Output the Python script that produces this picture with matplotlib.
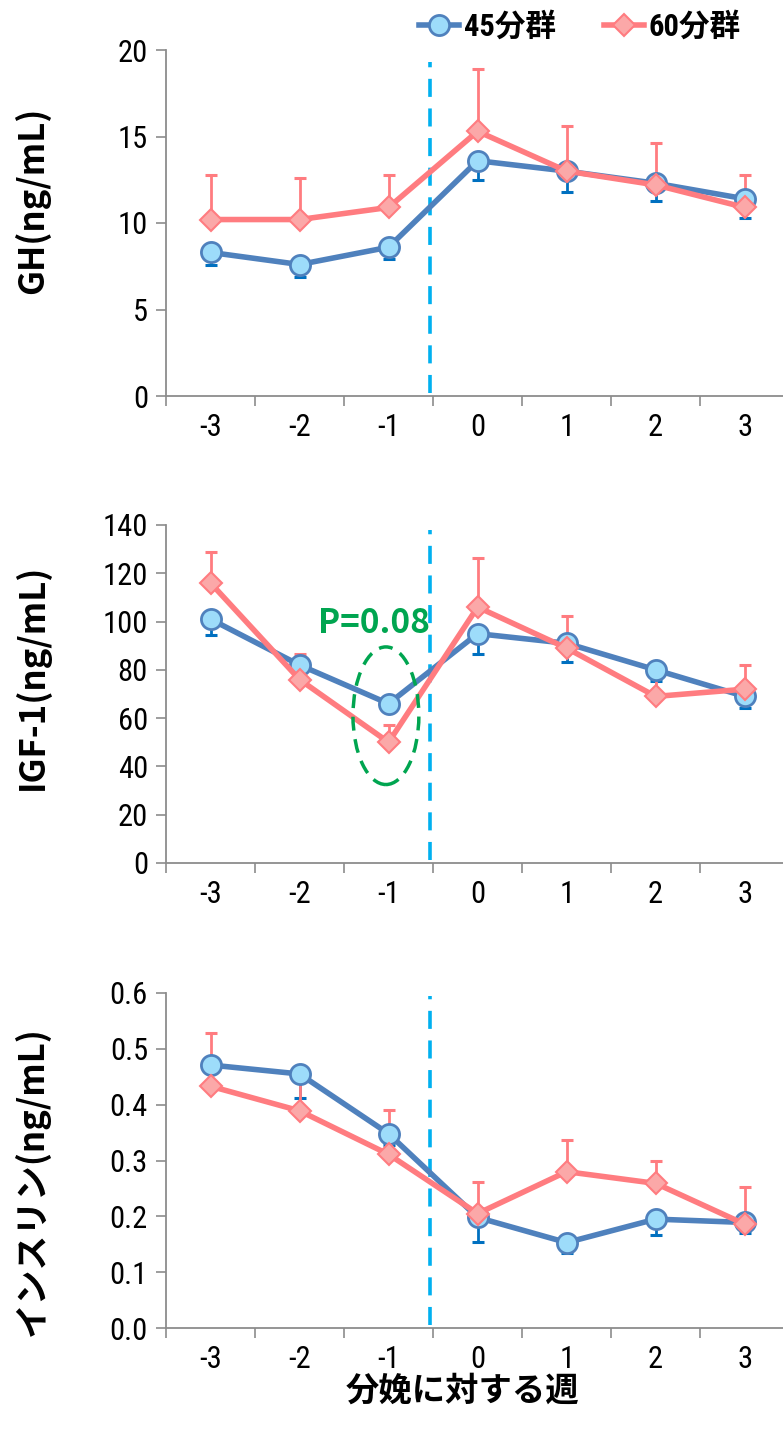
import numpy as np
import matplotlib
matplotlib.use('Agg')
import matplotlib.pyplot as plt
from matplotlib.patches import Ellipse

weeks = ['-3', '-2', '-1', '0', '1', '2', '3']

gh_45 = [8.3, 7.6, 8.6, 13.6, 13.0, 12.3, 11.4]
gh_45_se = [0.7, 0.7, 0.7, 1.1, 1.2, 1.0, 1.1]
gh_60 = [10.2, 10.2, 10.9, 15.3, 13.0, 12.2, 10.9]
gh_60_se = [2.6, 2.4, 1.9, 3.6, 2.6, 2.4, 1.9]

igf_45 = [101, 82, 66, 95, 91, 80, 69]
igf_45_se = [6.5, 3, 3, 8.4, 7.8, 4.8, 4.7]
igf_60 = [116, 76, 50, 106, 89, 69, 72]
igf_60_se = [13, 10.5, 7, 20.5, 13.5, 7.5, 10]

ins_45 = [0.471, 0.455, 0.348, 0.198, 0.153, 0.195, 0.189]
ins_45_se = [0.03, 0.043, 0.02, 0.044, 0.019, 0.029, 0.019]
ins_60 = [0.433, 0.389, 0.311, 0.205, 0.280, 0.259, 0.186]
ins_60_se = [0.096, 0.06, 0.08, 0.057, 0.057, 0.041, 0.066]

group_labels = ['45分群', '60分群']
ylabels = ['GH(ng/mL)', 'IGF-1(ng/mL)', 'インスリン(ng/mL)']
xlabel = '分娩に対する週'

fam = ['Roboto Condensed', 'Noto Sans CJK JP', 'DejaVu Sans']
cjk = ['Noto Sans CJK JP', 'DejaVu Sans']
plt.rcParams['font.family'] = fam

blue = '#4F81BD'
blue_face = '#9DDCFA'
blue_err = '#0070C0'
red = '#FF7C80'
red_face = '#FBA8A8'
vline_c = '#00B0F0'
green = '#00A550'
spine_c = '#8C8C8C'

fig = plt.figure(figsize=(7.83, 14.38), dpi=100)
W, H = 783.0, 1438.0
left = 166 / W
width = 1 - left
# (bottom px, top px, series..., ylim, ticks, fmt, ylabel y, dashed line top)
panels = [
    (396, 50, gh_45, gh_45_se, gh_60, gh_60_se, (0, 20), np.arange(0, 21, 5), '%d', 0.566, 0.965),
    (863, 525, igf_45, igf_45_se, igf_60, igf_60_se, (0, 140), np.arange(0, 141, 20), '%d', 0.55, 0.985),
    (1328, 993, ins_45, ins_45_se, ins_60, ins_60_se, (0, 0.6), np.arange(0, 0.61, 0.1), '%.1f', 0.44, 0.99),
]
x = np.arange(len(weeks))
axes = []
for i, (yb, yt, a, ase, b, bse, ylim, yt_vals, fmt, lab_y, vtop) in enumerate(panels):
    ax = fig.add_axes([left, 1 - yb / H, width, (yb - yt) / H])
    axes.append(ax)
    zeros = np.zeros(len(x))
    ax.errorbar(x, a, yerr=[ase, zeros], fmt='none', ecolor=blue_err,
                elinewidth=2, capsize=4, capthick=2.2, zorder=2)
    ax.errorbar(x, b, yerr=[zeros, bse], fmt='none', ecolor=red,
                elinewidth=2, capsize=4, capthick=2.2, zorder=2)
    ax.plot(x, a, color=blue, lw=4, marker='o', ms=14.5, mfc=blue_face,
            mec=blue, mew=2, label=group_labels[0], zorder=3)
    ax.plot(x, b, color=red, lw=4, marker='D', ms=11, mfc=red_face,
            mec=red, mew=1.5, label=group_labels[1], zorder=4)
    ax.axvline(2.47, ymin=0.01, ymax=vtop, color=vline_c, lw=2.6,
               dashes=(5, 3.2), zorder=1)

    ax.set_xlim(-0.5, 6.43)
    ax.set_ylim(*ylim)
    ax.set_yticks(yt_vals)
    ax.set_yticklabels([fmt % v for v in yt_vals])
    ax.set_xticks(x)
    ax.set_xticklabels(weeks)
    ax.set_xticks(np.arange(-0.5, 6.5, 1), minor=True)
    ax.tick_params(axis='x', which='major', length=0, pad=12, labelsize=22)
    ax.tick_params(axis='x', which='minor', length=7, width=1.2, color=spine_c)
    ax.tick_params(axis='y', length=7, width=1.2, color=spine_c, labelsize=22, pad=6)
    for s in ['top', 'right']:
        ax.spines[s].set_visible(False)
    for s in ['left', 'bottom']:
        ax.spines[s].set_color(spine_c)
        ax.spines[s].set_linewidth(1.3)
    ax.set_ylabel(ylabels[i], fontsize=25, fontweight='bold', family=cjk)
    ax.yaxis.set_label_coords(-0.188, lab_y)

# annotation on IGF-1 panel
ax2 = axes[1]
ax2.add_patch(Ellipse((1.97, 61), 0.74, 57, fill=False, edgecolor=green,
                      lw=2.5, linestyle=(0, (4, 2.5)), zorder=5))
ax2.text(1.83, 99, 'P=0.08', color=green, fontsize=24, fontweight='bold',
         family=cjk, ha='center', va='center', zorder=6)

handles, labels = axes[0].get_legend_handles_labels()
fig.legend(handles, labels, loc='center', bbox_to_anchor=(580 / W, 1 - 27 / H),
           ncol=2, frameon=False, handlelength=1.3, handletextpad=0.15,
           columnspacing=1.6, prop={'family': fam, 'size': 22, 'weight': 'bold'})

fig.text(462 / W, 1 - 1392 / H, xlabel, ha='center', va='center',
         fontsize=24, fontweight='bold')

fig.savefig('out.png', dpi=100)
